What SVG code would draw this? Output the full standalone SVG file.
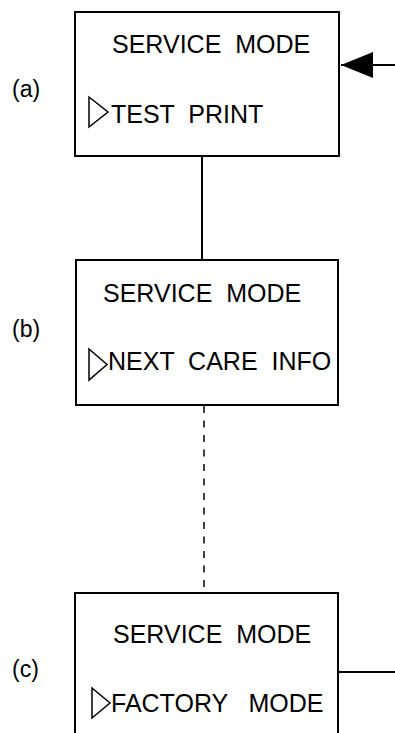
<svg xmlns="http://www.w3.org/2000/svg" width="395" height="733" viewBox="0 0 395 733">
<style>
.box{fill:#fff;stroke:#000;stroke-width:2}
.t{font-family:"Liberation Sans",Arial,sans-serif;font-size:25px;fill:#000;white-space:pre}
.lbl{font-family:"Liberation Sans",Arial,sans-serif;font-size:23px;fill:#000}
.tri{fill:#fff;stroke:#000;stroke-width:1.5}
.ln{stroke:#000;stroke-width:2;fill:none}
.dash{stroke:#000;stroke-width:1.5;stroke-dasharray:7 7.5;fill:none}
</style>
<defs>
<marker id="ah" markerWidth="32" markerHeight="26" refX="32" refY="13" orient="auto" markerUnits="userSpaceOnUse">
<path d="M0,0 L32,13 L0,26 Z" fill="#000"/>
</marker>
</defs>
<g id="connectors">
<line class="ln" x1="395" y1="65" x2="341" y2="65" marker-end="url(#ah)"/>
<line class="ln" x1="202" y1="156" x2="202" y2="260"/>
<line class="dash" x1="204" y1="406" x2="204" y2="593"/>
<line class="ln" x1="338" y1="672" x2="395" y2="672"/>
</g>
<g id="node-a">
<rect class="box" x="75" y="12" width="264" height="144"/>
<text class="t" x="112" y="53">SERVICE  MODE</text>
<polygon class="tri" points="89,97 108,112 89,127"/>
<text class="t" x="111" y="123">TEST  PRINT</text>
<text class="lbl" x="12" y="97">(a)</text>
</g>
<g id="node-b">
<rect class="box" x="76" y="260" width="262" height="145"/>
<text class="t" x="103" y="302">SERVICE  MODE</text>
<polygon class="tri" points="89,349 107,364.5 89,380"/>
<text class="t" x="108" y="370">NEXT  CARE  INFO</text>
<text class="lbl" x="12" y="337">(b)</text>
</g>
<g id="node-c">
<path class="box" d="M75,740 V593 H338 V740"/>
<text class="t" x="113" y="643">SERVICE  MODE</text>
<polygon class="tri" points="92,688 110,703 92,718"/>
<text class="t" x="111" y="712">FACTORY   MODE</text>
<text class="lbl" x="12" y="677">(c)</text>
</g>
</svg>
